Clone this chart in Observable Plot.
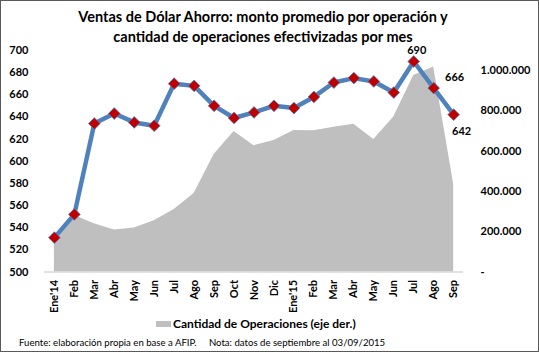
<!DOCTYPE html>
<html>
<head>
<meta charset="utf-8">
<script src="https://cdn.jsdelivr.net/npm/d3@7"></script>
<script src="https://cdn.jsdelivr.net/npm/@observablehq/plot@0.6"></script>
<style>
  html, body { margin: 0; padding: 0; background: #fff; }
  #wrap { position: relative; width: 539px; height: 352px; box-sizing: border-box; border: 1px solid #595959; overflow: hidden; font-family: Lato, "Open Sans", sans-serif; color: #000; }
  #title { position: absolute; left: 0; top: 6px; width: 524px; text-align: center; font-weight: bold; font-size: 14.5px; line-height: 20px; }
  #chart { position: absolute; left: -1px; top: -1px; }
  #legend { position: absolute; left: 155px; top: 315px; font-weight: bold; font-size: 12px; line-height: 16px; white-space: nowrap; }
  #legend .sw { display: inline-block; width: 15px; height: 6px; background: #BFBFBF; margin-right: 2px; vertical-align: 1px; }
  #foot { position: absolute; left: 18px; top: 336px; font-size: 9.6px; line-height: 12px; white-space: pre; }
</style>
</head>
<body>
<div id="wrap">
  <div id="chart"></div>
  <div id="title">Ventas de Dólar Ahorro: monto promedio por operación y<br>cantidad de operaciones efectivizadas por mes</div>
  <div id="legend"><span class="sw"></span>Cantidad de Operaciones (eje der.)</div>
  <div id="foot">Fuente: elaboración propia en base a AFIP.     Nota: datos de septiembre al 03/09/2015</div>
</div>
<script>
// ---- data ----
const months = ["Ene'14","Feb","Mar","Abr","May","Jun","Jul","Ago","Sep","Oct","Nov","Dic","Ene'15","Feb","Mar","Abr","May","Jun","Jul","Ago","Sep"];
const monto = [531, 552, 634, 643, 635, 632, 670, 668, 650, 639, 644, 650, 648, 658, 671, 675, 672, 662, 690, 666, 642];
const cantidad = [145000, 280000, 240000, 208000, 218000, 255000, 310000, 390000, 583000, 698000, 627000, 653000, 703000, 701000, 719000, 733000, 658000, 769000, 975000, 1018000, 435000];
const leftTicks = [500, 520, 540, 560, 580, 600, 620, 640, 660, 680, 700];
const rightTicks = [0, 200000, 400000, 600000, 800000, 1000000];

// right axis domain 0..1.100.000 mapped onto left 500..700
const leftMin = 500, leftMax = 700, rightMax = 1100000;
const toLeft = v => leftMin + v / rightMax * (leftMax - leftMin);
const toRight = y => Math.round((y - leftMin) / (leftMax - leftMin) * rightMax / 1000) * 1000;

const esFmt = d3.formatLocale({decimal: ",", thousands: ".", grouping: [3], currency: ["$", ""]}).format(",");

const data = months.map((m, i) => ({i, monto: monto[i], cant: toLeft(cantidad[i])}));

const plot = Plot.plot({
  width: 539,
  height: 320,
  marginTop: 50,
  marginBottom: 48,
  marginLeft: 44,
  marginRight: 75,
  style: {fontFamily: "Lato, 'Open Sans', sans-serif", fontSize: "11px", fontWeight: "bold", background: "transparent", color: "#000"},
  x: {type: "point", domain: d3.range(months.length)},
  y: {domain: [leftMin, leftMax]},
  marks: [
    Plot.areaY(data, {x: "i", y1: leftMin, y2: "cant", fill: "#BFBFBF"}),
    Plot.ruleY([leftMin], {stroke: "#D9D9D9", strokeWidth: 1.5}),
    Plot.line(data, {x: "i", y: "monto", stroke: "#4F81BD", strokeWidth: 4.5}),
    Plot.dot(data, {x: "i", y: "monto", symbol: "diamond2", r: 5.3, fill: "#C00000", stroke: "#4F81BD", strokeWidth: 0.8, fillOpacity: 1}),
    Plot.text(data.filter(d => d.i === 18), {x: "i", y: "monto", text: d => String(d.monto), dx: 3, dy: -11}),
    Plot.text(data.filter(d => d.i === 19), {x: "i", y: "monto", text: d => String(d.monto), dx: 21, dy: -11}),
    Plot.text(data.filter(d => d.i === 20), {x: "i", y: "monto", text: d => String(d.monto), dx: 8, dy: 17}),
    Plot.axisY(leftTicks, {anchor: "left", tickSize: 0, tickPadding: 16, label: null}),
    Plot.axisY(rightTicks.map(toLeft), {anchor: "right", tickSize: 0, tickPadding: 17, textAnchor: "start", label: null,
      tickFormat: y => { const v = toRight(y); return v === 0 ? "-" : esFmt(v); }}),
    Plot.axisX({tickRotate: -90, tickSize: 0, tickPadding: 8, label: null, tickFormat: i => months[i]})
  ]
});
document.getElementById("chart").appendChild(plot);
</script>
</body>
</html>
